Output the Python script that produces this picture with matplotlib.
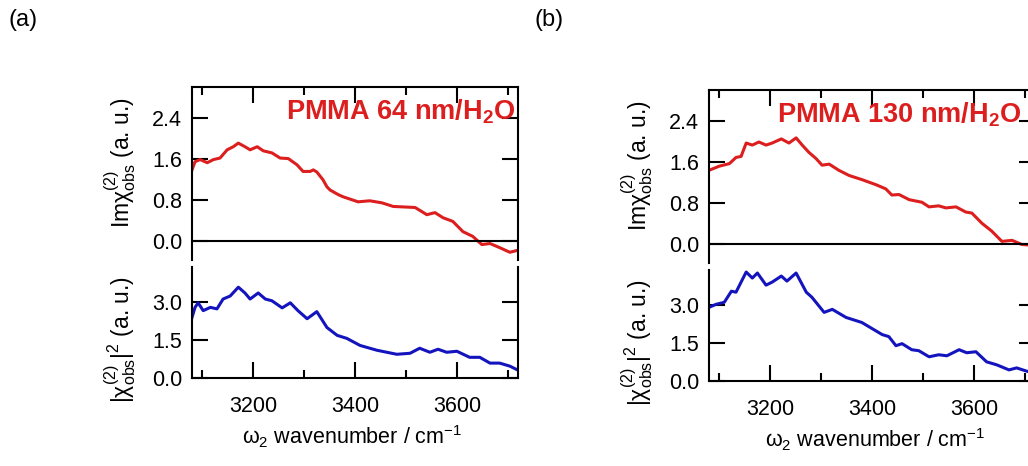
import numpy as np
import matplotlib
matplotlib.use("Agg")
import matplotlib.pyplot as plt
from matplotlib.ticker import MultipleLocator

plt.rcParams['font.family'] = ['Liberation Sans', 'DejaVu Sans']
plt.rcParams['mathtext.fontset'] = 'custom'
plt.rcParams['mathtext.rm'] = 'Liberation Sans'
plt.rcParams['mathtext.it'] = 'Liberation Sans:italic'
plt.rcParams['mathtext.bf'] = 'Liberation Sans:bold'

RED = '#dc1e1e'
BLUE = '#1414be'

# panel (a): PMMA 64 nm / H2O
wn_a_im = [3080, 3086, 3096, 3110, 3122, 3135, 3149, 3161, 3171, 3184, 3194,
           3208, 3220, 3237, 3253, 3269, 3286, 3298, 3312, 3318, 3325, 3337,
           3345, 3351, 3367, 3376, 3406, 3429, 3453, 3475, 3518, 3541, 3557,
           3573, 3592, 3612, 3631, 3649, 3665, 3684, 3704, 3720]
im_a = [1.39, 1.55, 1.59, 1.53, 1.59, 1.62, 1.78, 1.84, 1.91, 1.84, 1.78,
        1.84, 1.76, 1.72, 1.62, 1.61, 1.49, 1.36, 1.36, 1.39, 1.35, 1.20,
        1.06, 1.00, 0.91, 0.87, 0.77, 0.79, 0.75, 0.68, 0.66, 0.52, 0.56,
        0.46, 0.39, 0.19, 0.10, -0.06, -0.04, -0.12, -0.21, -0.17]

wn_a_abs = [3080, 3086, 3092, 3102, 3116, 3129, 3141, 3155, 3171, 3184, 3194,
            3210, 3224, 3237, 3257, 3273, 3288, 3306, 3325, 3345, 3365, 3384,
            3410, 3443, 3482, 3508, 3527, 3547, 3563, 3580, 3600, 3625, 3645,
            3665, 3684, 3704, 3720]
abs_a = [2.40, 2.80, 2.98, 2.67, 2.80, 2.74, 3.13, 3.25, 3.60, 3.37, 3.13,
         3.37, 3.13, 3.06, 2.78, 2.98, 2.67, 2.35, 2.63, 2.00, 1.69, 1.57,
         1.29, 1.10, 0.94, 0.98, 1.18, 1.02, 1.14, 1.02, 1.06, 0.82, 0.82,
         0.59, 0.59, 0.47, 0.31]

# panel (b): PMMA 130 nm / H2O
wn_b_im = [3080, 3100, 3120, 3133, 3143, 3153, 3165, 3178, 3192, 3204, 3222,
           3237, 3251, 3263, 3276, 3290, 3302, 3316, 3335, 3355, 3380, 3408,
           3427, 3439, 3453, 3473, 3498, 3512, 3531, 3545, 3565, 3584, 3596,
           3616, 3635, 3655, 3675, 3694, 3720]
im_b = [1.44, 1.52, 1.57, 1.69, 1.71, 1.97, 1.93, 1.99, 1.93, 1.97, 2.05,
        1.97, 2.07, 1.93, 1.79, 1.67, 1.54, 1.56, 1.44, 1.34, 1.26, 1.16,
        1.08, 0.96, 0.97, 0.87, 0.82, 0.73, 0.75, 0.71, 0.73, 0.63, 0.61,
        0.41, 0.26, 0.06, 0.08, 0.00, -0.02]

wn_b_abs = [3080, 3094, 3110, 3124, 3133, 3153, 3165, 3175, 3192, 3204, 3222,
            3233, 3251, 3271, 3282, 3306, 3322, 3349, 3380, 3400, 3420, 3433,
            3447, 3459, 3478, 3492, 3512, 3531, 3547, 3571, 3586, 3604, 3625,
            3645, 3669, 3684, 3702, 3720]
abs_b = [2.92, 3.04, 3.12, 3.56, 3.52, 4.32, 4.08, 4.28, 3.80, 3.92, 4.16,
         3.96, 4.28, 3.52, 3.32, 2.72, 2.84, 2.52, 2.32, 2.08, 1.84, 1.76,
         1.40, 1.48, 1.24, 1.20, 0.96, 1.04, 1.00, 1.24, 1.12, 1.16, 0.76,
         0.64, 0.44, 0.52, 0.40, 0.30]

titles = ['PMMA 64 nm/H$_\\mathbf{2}$O', 'PMMA 130 nm/H$_\\mathbf{2}$O']
panel_tags = ['(a)', '(b)']

W, H = 1028, 466
fig = plt.figure(figsize=(W / 100, H / 100), dpi=100)

FS = 15.5
LW = 1.5


def px(x0, y_top, w, h):
    return [x0 / W, 1 - (y_top + h) / H, w / W, h / H]


def style(ax):
    for s in ax.spines.values():
        s.set_linewidth(LW)
    ax.tick_params(which='major', direction='in', length=11.5, width=LW,
                   labelsize=FS)
    ax.tick_params(which='minor', direction='in', length=6, width=LW)
    ax.xaxis.set_major_locator(MultipleLocator(200))
    ax.xaxis.set_minor_locator(MultipleLocator(100))
    ax.set_xlim(3080, 3720)


panels = [(192, 0, wn_a_im, im_a, wn_a_abs, abs_a),
          (709, 3, wn_b_im, im_b, wn_b_abs, abs_b)]

for i, (x0, dy, wi, yi, wa, ya) in enumerate(panels):
    ax1 = fig.add_axes(px(x0, 87 + dy, 326, 173))
    ax2 = fig.add_axes(px(x0, 267 + dy, 326, 111))

    # Im chi(2)
    style(ax1)
    ax1.plot(wi, yi, color=RED, lw=2.2)
    ax1.axhline(0, color='black', lw=LW)
    ax1.set_ylim(-0.36, 3.0)
    ax1.set_yticks([0.0, 0.8, 1.6, 2.4])
    ax1.spines['bottom'].set_visible(False)
    ax1.tick_params(axis='x', which='both', bottom=False, top=True,
                    labelbottom=False)
    ax1.tick_params(axis='y', left=True, right=True, pad=7)
    ax1.text(0.991 if i == 0 else 0.958, 0.815, titles[i], transform=ax1.transAxes,
             ha='right', va='baseline', color=RED, fontsize=19.5,
             fontweight='bold')

    # |chi(2)|^2
    style(ax2)
    ax2.plot(wa, ya, color=BLUE, lw=2.2)
    ax2.set_ylim(0, 4.4)
    ax2.set_yticks([0.0, 1.5, 3.0])
    ax2.spines['top'].set_visible(False)
    ax2.tick_params(axis='x', which='both', bottom=True, top=False, pad=13)
    ax2.tick_params(axis='y', left=True, right=True, pad=7)

    cx = x0 + 326 / 2 - 3 + 6 * i
    fig.text(cx / W, 1 - (437 + dy) / H,
             r'$\mathregular{\omega_2}$ wavenumber / cm$^{-1}$',
             ha='center', va='center', fontsize=FS)
    fig.text((x0 - 72) / W, 1 - (163 + dy) / H,
             r'Im$\mathregular{\chi^{(2)}_{obs}}$ (a. u.)',
             rotation=90, ha='center', va='center', fontsize=16.5)
    fig.text((x0 - 72) / W, 1 - (340 + dy) / H,
             r'$\mathregular{|\chi^{(2)}_{obs}|^2}$ (a. u.)',
             rotation=90, ha='center', va='center', fontsize=16.5)

fig.text(8 / W, 1 - 20 / H, panel_tags[0], ha='left', va='center', fontsize=17)
fig.text(534 / W, 1 - 20 / H, panel_tags[1], ha='left', va='center', fontsize=17)

fig.savefig('out.png', dpi=100)
